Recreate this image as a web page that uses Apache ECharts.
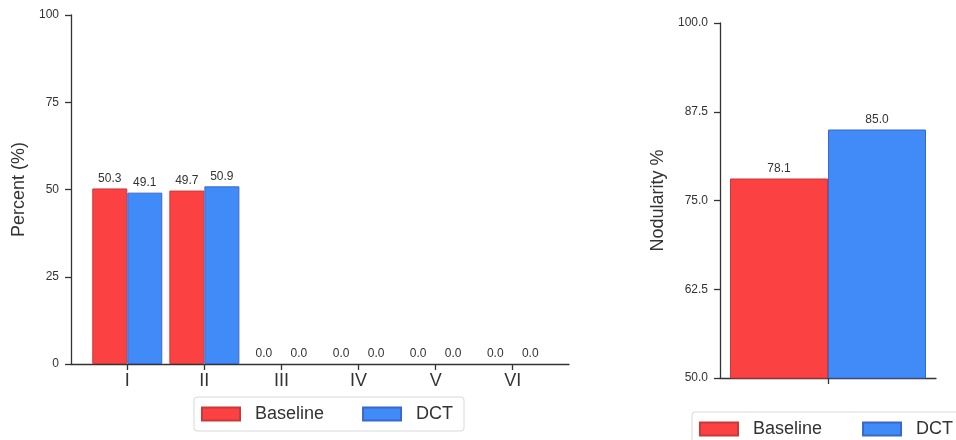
<!DOCTYPE html>
<html>
<head>
<meta charset="utf-8">
<script src="https://cdn.jsdelivr.net/npm/echarts@6/dist/echarts.min.js"></script>
<style>
html,body{margin:0;padding:0;background:#fff;}
#chart{width:956px;height:440px;}
</style>
</head>
<body>
<div id="chart"></div>
<script>
// ---- data ----
var gradeCategories = ['I', 'II', 'III', 'IV', 'V', 'VI'];
var baselineGrades = [50.3, 49.7, 0.0, 0.0, 0.0, 0.0];
var dctGrades = [49.1, 50.9, 0.0, 0.0, 0.0, 0.0];
var percentTicks = [0, 25, 50, 75, 100];

var nodularityCategory = [''];
var baselineNodularity = [78.1];
var dctNodularity = [85.0];
var nodularityTicks = [50.0, 62.5, 75.0, 87.5, 100.0];

var seriesNames = ['Baseline', 'DCT'];
// ---------------

var FONT = "'Liberation Sans', Arial, sans-serif";
var RED = '#fb4142', RED_EDGE = '#c9393a';
var BLUE = '#418bf8', BLUE_EDGE = '#3a67c9';
var AX = '#333333';

function idxArr(n){ var a=[]; for (var i=0;i<n;i++) a.push(i); return a; }
function toItems(arr){
  return arr.map(function(v,i){
    return v === 0 ? { value: [i, v], itemStyle: { borderWidth: 0 } } : [i, v];
  });
}

var chart = echarts.init(document.getElementById('chart'), null, {renderer:'canvas'});

var barLabel = {
  show: true, position: 'top', distance: 4,
  color: '#333', fontSize: 12, fontFamily: FONT,
  formatter: function(p){ var v = Array.isArray(p.value) ? p.value[1] : p.value; return Number(v).toFixed(1); }
};

var legendCommon = {
  data: seriesNames,
  icon: 'rect',
  itemWidth: 38, itemHeight: 13,
  itemGap: 38,
  borderColor: '#d9d9d9', borderWidth: 1, borderRadius: 3,
  padding: [8, 11, 8, 7],
  textStyle: { fontSize: 18, color: '#333', fontFamily: FONT, padding: [0,0,0,10] },
  selectedMode: false
};

var option = {
  animation: false,
  backgroundColor: '#fff',
  textStyle: { fontFamily: FONT },
  grid: [
    { left: 71, right: 387, top: 15, bottom: 76 },
    { left: 720, right: 20, top: 23, bottom: 62 }
  ],
  legend: [
    Object.assign({}, legendCommon, { left: 194, top: 397, width: 300 }),
    Object.assign({}, legendCommon, { left: 692, top: 412, width: 300, itemGap: 40, padding: [8, 20, 8, 7] })
  ],
  xAxis: [
    {
      type: 'value', gridIndex: 0,
      min: -0.73, max: 5.73,
      axisLine: { show: true, onZero: false, lineStyle: { color: AX, width: 1.3 } },
      axisTick: { show: true, length: 6, customValues: idxArr(gradeCategories.length), lineStyle: { color: AX, width: 1.3 } },
      axisLabel: {
        customValues: idxArr(gradeCategories.length),
        formatter: function(v){ return gradeCategories[Math.round(v)]; },
        fontSize: 18, color: '#333', margin: 8, fontFamily: FONT
      },
      splitLine: { show: false }
    },
    {
      type: 'category', gridIndex: 1,
      data: nodularityCategory,
      axisLine: { show: true, onZero: false, lineStyle: { color: AX, width: 1.3 } },
      axisTick: { show: true, length: 6, alignWithLabel: true, lineStyle: { color: AX, width: 1.3 } },
      axisLabel: { show: false }
    }
  ],
  yAxis: [
    {
      type: 'value', gridIndex: 0,
      min: percentTicks[0], max: percentTicks[percentTicks.length-1], interval: 25,
      name: 'Percent (%)', nameLocation: 'middle', nameGap: 41,
      nameTextStyle: { fontSize: 18, color: '#333', fontFamily: FONT },
      axisLine: { show: true, onZero: false, lineStyle: { color: AX, width: 1.3 } },
      axisTick: { show: true, length: 6, lineStyle: { color: AX, width: 1.3 } },
      axisLabel: { fontSize: 12, color: '#333', margin: 12, fontFamily: FONT },
      splitLine: { show: false }
    },
    {
      type: 'value', gridIndex: 1,
      min: nodularityTicks[0], max: nodularityTicks[nodularityTicks.length-1], interval: 12.5,
      name: 'Nodularity %', nameLocation: 'middle', nameGap: 53,
      nameTextStyle: { fontSize: 18, color: '#333', fontFamily: FONT },
      axisLine: { show: true, onZero: false, lineStyle: { color: AX, width: 1.3 } },
      axisTick: { show: true, length: 6, lineStyle: { color: AX, width: 1.3 } },
      axisLabel: { fontSize: 12, color: '#333', margin: 12, fontFamily: FONT,
        formatter: function(v){ return Number(v).toFixed(1); } },
      splitLine: { show: false }
    }
  ],
  series: [
    {
      name: seriesNames[0], type: 'bar', xAxisIndex: 0, yAxisIndex: 0,
      data: toItems(baselineGrades),
      barWidth: 35, barGap: '0%',
      itemStyle: { color: RED, borderColor: RED_EDGE, borderWidth: 1 },
      label: barLabel
    },
    {
      name: seriesNames[1], type: 'bar', xAxisIndex: 0, yAxisIndex: 0,
      data: toItems(dctGrades),
      barWidth: 35, barGap: '0%',
      itemStyle: { color: BLUE, borderColor: BLUE_EDGE, borderWidth: 1 },
      label: barLabel
    },
    {
      name: seriesNames[0], type: 'bar', xAxisIndex: 1, yAxisIndex: 1,
      data: baselineNodularity,
      barWidth: 98, barGap: '0%',
      itemStyle: { color: RED, borderColor: RED_EDGE, borderWidth: 1 },
      label: barLabel
    },
    {
      name: seriesNames[1], type: 'bar', xAxisIndex: 1, yAxisIndex: 1,
      data: dctNodularity,
      barWidth: 98, barGap: '0%',
      itemStyle: { color: BLUE, borderColor: BLUE_EDGE, borderWidth: 1 },
      label: barLabel
    }
  ]
};

chart.setOption(option);
</script>
</body>
</html>
